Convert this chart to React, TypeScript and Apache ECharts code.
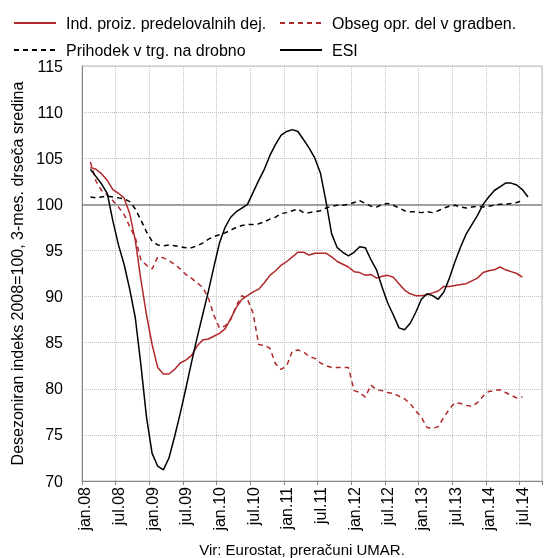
import React, { useEffect, useRef } from "react";
import * as echarts from "echarts";

const years = ["08", "09", "10", "11", "12", "13", "14"];
const monthNames = ["jan", "feb", "mar", "apr", "maj", "jun", "jul", "avg", "sep", "okt", "nov", "dec"];
const lastMonthIndex2014 = 9; // axis runs to okt.14

const seriesNames = [
  "Ind. proiz. predelovalnih dej.",
  "Obseg opr. del v gradben.",
  "Prihodek v trg. na drobno",
  "ESI",
];

// Monthly values, jan.08 .. okt.14 (null where no value)
const industry = [
  null,
  104.0, 103.8, 103.3, 102.6, 101.6, 101.2, 100.7, 99.0, 96.1, 91.8,
  88.0, 84.8, 82.3, 81.6, 81.6, 82.1, 82.8, 83.1, 83.6, 84.6,
  85.3, 85.4, 85.7, 86.0, 86.5, 87.6, 88.8, 89.7, 90.1, 90.5,
  90.8, 91.5, 92.3, 92.8, 93.4, 93.8, 94.3, 94.8, 94.8, 94.5,
  94.7, 94.7, 94.7, 94.3, 93.8, 93.5, 93.2, 92.7, 92.6, 92.3,
  92.4, 92.0, 92.2, 92.3, 92.1, 91.4, 90.7, 90.3, 90.1, 90.1,
  90.2, 90.4, 90.6, 91.1, 91.1, 91.2, 91.3, 91.4, 91.7, 92.0,
  92.6, 92.8, 92.9, 93.2, 92.9, 92.7, 92.5, 92.1,
  null, null, null,
];

const construction = [
  null,
  104.6, 102.5, 101.5, 101.0, 100.4, 99.7, 98.9, 97.6, 96.4, 94.0,
  93.4, 93.0, 94.3, 94.2, 93.9, 93.5, 93.0, 92.4, 92.0, 91.5,
  91.0, 89.9, 88.0, 86.6, 86.8, 87.5, 89.0, 90.1, 89.7, 88.2,
  84.8, 84.7, 84.4, 82.7, 82.1, 82.5, 84.1, 84.2, 84.0, 83.5,
  83.3, 82.8, 82.5, 82.3, 82.3, 82.3, 82.3, 79.8, 79.6, 79.1,
  80.4, 79.9, 79.8, 79.6, 79.5, 79.2, 78.9, 78.4, 77.6, 76.9,
  75.8, 75.7, 75.9, 76.9, 77.8, 78.5, 78.4, 78.2, 78.1, 78.5,
  79.2, 79.7, 79.8, 79.9, 79.6, 79.3, 79.0, 79.1,
  null, null, null,
];

const retail = [
  null,
  100.8, 100.7, 100.8, 100.9, 100.8, 100.7, 100.6, 100.3, 99.5, 98.3,
  97.0, 96.0, 95.6, 95.5, 95.6, 95.5, 95.4, 95.3, 95.3, 95.5,
  95.8, 96.2, 96.5, 96.7, 96.9, 97.2, 97.5, 97.7, 97.8, 97.8,
  97.9, 98.1, 98.4, 98.6, 99.0, 99.1, 99.3, 99.5, 99.1, 99.1,
  99.2, 99.3, 99.6, 99.8, 99.9, 99.9, 100.0, 100.2, 100.4, 100.1,
  99.8, 99.7, 100.0, 100.1, 99.9, 99.6, 99.3, 99.2, 99.2, 99.1,
  99.2, 99.1, 99.3, 99.6, 99.8, 99.9, 99.7, 99.6, 99.7, 99.8,
  99.7, 99.8, 99.9, 100.0, 100.0, 100.1, 100.2, 100.4,
  null, null, null,
];

const esi = [
  null,
  103.8, 103.0, 102.2, 101.2, 98.2, 95.6, 93.5, 90.8, 87.7, 82.6,
  76.9, 73.0, 71.6, 71.2, 72.5, 74.8, 77.3, 80.0, 82.8, 85.5,
  88.0, 90.5, 93.2, 95.8, 97.5, 98.6, 99.2, 99.6, 100.0, 101.3,
  102.6, 103.8, 105.3, 106.5, 107.5, 107.9, 108.1, 107.9, 107.0, 106.1,
  105.0, 103.4, 100.3, 96.8, 95.3, 94.8, 94.4, 94.8, 95.4, 95.3,
  94.0, 92.9, 91.0, 89.3, 88.0, 86.6, 86.4, 87.1, 88.3, 89.7,
  90.3, 90.1, 89.7, 90.5, 92.0, 93.8, 95.4, 96.8, 97.8, 98.8,
  100.0, 100.8, 101.5, 101.9, 102.3, 102.3, 102.1, 101.6, 100.8,
  null, null,
];

const categories: string[] = [];
years.forEach((y, yi) => {
  monthNames.forEach((m, mi) => {
    if (yi === years.length - 1 && mi > lastMonthIndex2014) return;
    categories.push(`${m}.${y}`);
  });
});

const FONT = "Liberation Sans";
const FS = 16;
const RED = "#B0282C";
const GRID = "#BFBFBF";
const AXIS = "#868686";

export default function App() {
  const ref = useRef<HTMLDivElement>(null);
  useEffect(() => {
    if (!ref.current) return;
    const chart = echarts.init(ref.current, null, { renderer: "svg" });
    const legendBase = {
      itemWidth: 42,
      itemHeight: 14,
      padding: 0,
      itemStyle: { opacity: 0 },
      textStyle: { fontFamily: FONT, fontSize: FS, color: "#000", padding: [0, 0, 0, 5] },
      selectedMode: false,
    };
    chart.setOption({
      animation: false,
      textStyle: { fontFamily: FONT },
      grid: {
        left: 82,
        top: 66,
        width: 460,
        height: 415,
        show: true,
        borderColor: GRID,
        borderWidth: 1,
      },
      legend: [
        { ...legendBase, data: [seriesNames[0]], left: 13, top: 15 },
        { ...legendBase, data: [seriesNames[1]], left: 279, top: 15 },
        { ...legendBase, data: [seriesNames[2]], left: 13, top: 42 },
        { ...legendBase, data: [seriesNames[3]], left: 279, top: 42 },
      ],
      xAxis: {
        type: "category",
        data: categories,
        boundaryGap: true,
        axisLine: { lineStyle: { color: AXIS, width: 1 } },
        axisTick: { show: true, interval: 5, length: 4, lineStyle: { color: AXIS } },
        axisLabel: {
          interval: 5,
          rotate: 90,
          margin: 6,
          fontSize: FS,
          color: "#000",
          fontFamily: FONT,
        },
        splitLine: { show: true, interval: 5, lineStyle: { type: "dotted", color: GRID } },
      },
      yAxis: {
        type: "value",
        min: 70,
        max: 115,
        interval: 5,
        name: "Desezoniran indeks 2008=100, 3-mes. drseča sredina",
        nameLocation: "middle",
        nameGap: 56,
        nameTextStyle: { fontSize: FS, color: "#000", fontFamily: FONT },
        axisLine: { show: true, lineStyle: { color: AXIS } },
        axisTick: { show: false },
        axisLabel: { fontSize: FS, color: "#000", margin: 19, fontFamily: FONT },
        splitLine: { show: true, lineStyle: { type: "dotted", color: GRID } },
      },
      series: [
        {
          name: seriesNames[0],
          type: "line",
          data: industry,
          symbol: "none",
          lineStyle: { color: RED, width: 1.5 },
          itemStyle: { color: RED },
          z: 4,
          markLine: {
            silent: true,
            symbol: ["none", "none"],
            label: { show: false },
            lineStyle: { color: AXIS, type: "solid", width: 1.5 },
            data: [{ yAxis: 100 }],
            z: 1,
          },
        },
        {
          name: seriesNames[1],
          type: "line",
          data: construction,
          symbol: "none",
          lineStyle: { color: RED, width: 1.5, type: [5, 4] },
          itemStyle: { color: RED },
          z: 3,
        },
        {
          name: seriesNames[2],
          type: "line",
          data: retail,
          symbol: "none",
          lineStyle: { color: "#000", width: 1.5, type: [5, 4] },
          itemStyle: { color: "#000" },
          z: 3,
        },
        {
          name: seriesNames[3],
          type: "line",
          data: esi,
          symbol: "none",
          lineStyle: { color: "#000", width: 1.5 },
          itemStyle: { color: "#000" },
          z: 5,
        },
      ],
      graphic: [
        {
          type: "text",
          x: 302,
          y: 549,
          style: {
            text: "Vir: Eurostat, preračuni UMAR.",
            fontFamily: FONT,
            fontSize: 15,
            fill: "#000",
            textAlign: "center",
            textVerticalAlign: "middle",
          },
        },
      ],
    });
    return () => chart.dispose();
  }, []);
  return (
    <div
      ref={ref}
      style={{ position: "fixed", left: 0, top: 0, width: 544, height: 558 }}
    />
  );
}
